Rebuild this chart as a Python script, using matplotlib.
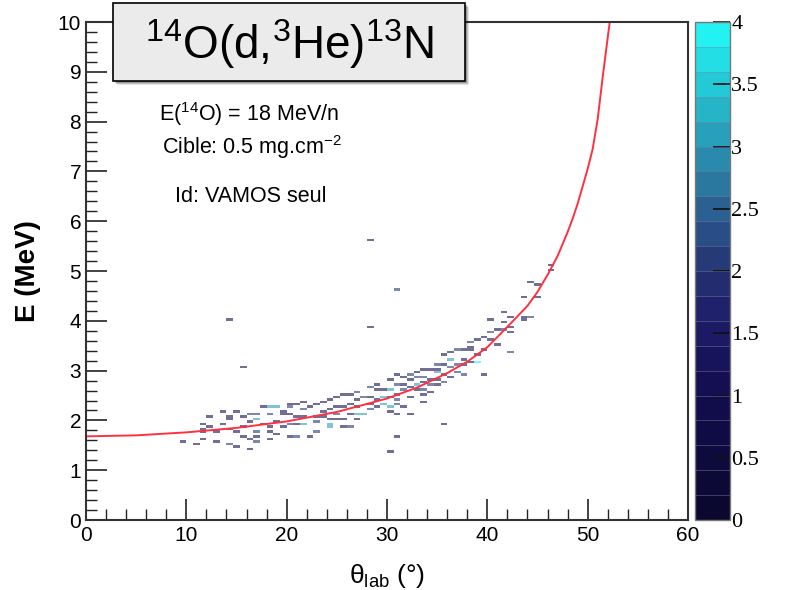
import matplotlib
matplotlib.use("Agg")
import matplotlib.pyplot as plt
import numpy as np
from matplotlib.colors import LinearSegmentedColormap, ListedColormap, Normalize
from matplotlib.cm import ScalarMappable
from matplotlib.patches import FancyBboxPatch
from matplotlib.ticker import MultipleLocator

plt.rcParams.update({
    "font.family": ["Liberation Sans", "DejaVu Sans"],
    "mathtext.fontset": "custom",
    "mathtext.rm": "Liberation Sans",
    "mathtext.it": "Liberation Sans:italic",
    "mathtext.bf": "Liberation Sans:bold",
})

# --- histogram cells: angle (deg), energy (MeV), counts ---------------
theta_cells = [
    9.7, 11.1, 11.7, 11.7, 11.7, 11.8, 12.4, 12.5, 13.1, 13.1,
    13.7, 13.8, 14.4, 14.4, 14.4, 14.4, 15.1, 15.1, 15.2, 15.8,
    15.8, 15.8, 16.4, 16.4, 16.5, 16.4, 17.1, 17.1, 17.1, 17.1,
    17.2, 17.7, 17.8, 18.4, 18.4, 18.4, 18.4, 18.4, 19.1, 19.2,
    19.2, 19.8, 19.8, 19.8, 20.4, 20.4, 20.5, 20.5, 20.5, 21.2,
    21.2, 21.2, 21.2, 21.8, 21.8, 21.8, 21.8, 22.5, 22.5, 23.1,
    23.2, 23.2, 23.2, 23.8, 23.8, 23.8, 24.4, 24.5, 24.5, 24.5,
    24.5, 25.2, 25.2, 25.2, 25.2, 25.8, 25.8, 25.8, 25.8, 26.5,
    26.5, 26.5, 26.5, 27.1, 27.1, 27.1, 27.1, 27.1, 27.8, 27.8,
    28.5, 28.5, 28.5, 28.5, 29.1, 29.1, 29.1, 29.1, 29.8, 29.8,
    29.8, 30.5, 30.5, 30.5, 30.5, 30.5, 31.1, 31.1, 31.1, 31.1,
    31.1, 31.1, 31.1, 31.8, 31.8, 31.8, 31.8, 32.5, 32.5, 32.5,
    32.5, 32.5, 33.1, 33.1, 33.1, 33.1, 33.8, 33.8, 33.8, 33.8,
    33.8, 33.9, 34.5, 34.5, 34.5, 34.5, 35.1, 35.1, 35.1, 35.1,
    35.1, 35.8, 35.8, 35.8, 35.8, 35.9, 36.5, 36.5, 36.5, 36.5,
    37.1, 37.1, 37.1, 37.8, 37.8, 37.8, 37.8, 38.5, 38.5, 38.5,
    38.5, 39.1, 39.1, 39.1, 39.8, 39.8, 39.9, 40.5, 40.5, 40.5,
    41.1, 41.2, 41.9, 41.9, 41.9, 42.0, 42.5, 42.6, 42.6, 43.9,
    43.9, 43.9, 44.6, 44.6, 45.3, 45.3, 46.6, 46.6,
    14.4, 15.8, 28.5, 31.1, 30.5, 28.5,
]
energy_cells = [
    1.57, 1.54, 1.91, 1.83, 1.75, 1.62, 2.07, 1.87, 1.77, 1.56,
    2.15, 1.91, 2.09, 2.01, 1.82, 1.50, 2.15, 1.49, 1.75, 2.07,
    1.89, 1.69, 2.11, 1.96, 1.62, 1.45, 2.11, 2.03, 1.77, 1.70,
    1.55, 2.26, 1.94, 2.29, 2.11, 1.89, 1.75, 1.61, 2.29, 1.97,
    1.72, 2.17, 2.12, 1.89, 2.33, 2.27, 2.11, 1.95, 1.67, 2.34,
    2.09, 1.93, 1.66, 2.37, 2.22, 2.07, 1.93, 2.27, 1.67, 2.31,
    2.09, 1.97, 1.75, 2.35, 2.18, 2.09, 2.44, 2.24, 2.04, 1.95,
    1.87, 2.47, 2.29, 2.13, 2.01, 2.52, 2.29, 2.01, 1.87, 2.51,
    2.31, 2.14, 1.89, 2.58, 2.41, 2.27, 2.14, 2.04, 2.47, 2.12,
    2.69, 2.47, 2.31, 2.21, 2.74, 2.61, 2.41, 2.27, 2.64, 2.47,
    2.31, 2.81, 2.64, 2.47, 2.29, 2.17, 2.94, 2.74, 2.54, 2.44,
    2.34, 2.11, 1.69, 2.88, 2.74, 2.64, 2.27, 2.91, 2.81, 2.68,
    2.47, 2.14, 2.96, 2.88, 2.71, 2.61, 3.04, 2.89, 2.76, 2.62,
    2.53, 2.39, 3.01, 2.84, 2.71, 2.58, 3.14, 3.04, 2.96, 2.81,
    2.71, 3.31, 3.11, 2.91, 2.78, 1.92, 3.40, 3.21, 3.09, 2.86,
    3.41, 3.14, 2.96, 3.43, 3.24, 3.11, 2.91, 3.58, 3.49, 3.41,
    3.18, 3.65, 3.34, 3.18, 3.67, 3.41, 2.93, 3.75, 3.61, 4.00,
    3.81, 3.53, 4.15, 3.96, 3.81, 3.38, 3.87, 3.75, 4.05, 4.48,
    4.08, 4.00, 4.05, 4.76, 4.73, 4.47, 5.14, 5.03,
    4.03, 3.09, 3.89, 4.63, 1.37, 5.62,
]
counts = [
    1, 1, 1, 1, 1, 1, 1, 1, 1, 1,
    1, 1, 1, 1, 1, 2, 1, 1, 1, 1,
    1, 1, 2, 1, 1, 1, 2, 3, 2, 1,
    2, 1, 1, 3, 2, 1, 1, 1, 3, 1,
    1, 1, 1, 1, 1, 2, 1, 2, 1, 1,
    1, 1, 2, 1, 2, 1, 3, 1, 1, 1,
    1, 2, 2, 1, 1, 1, 1, 1, 1, 3,
    3, 1, 1, 2, 1, 1, 1, 1, 1, 1,
    1, 1, 2, 2, 1, 1, 3, 1, 2, 3,
    2, 1, 1, 2, 1, 1, 1, 1, 1, 3,
    3, 1, 3, 1, 3, 1, 1, 2, 1, 2,
    2, 1, 1, 1, 1, 2, 1, 2, 1, 1,
    1, 1, 1, 2, 3, 1, 1, 2, 1, 2,
    1, 1, 1, 1, 2, 1, 2, 1, 3, 1,
    1, 1, 1, 1, 2, 1, 1, 3, 2, 1,
    2, 2, 2, 1, 1, 1, 2, 2, 1, 1,
    1, 1, 1, 4, 1, 1, 1, 2, 1, 1,
    1, 1, 1, 1, 2, 2, 1, 1, 1, 1,
    1, 1, 2, 1, 1, 1, 1, 1,
    1, 1, 1, 2, 1, 1,
]

# --- kinematic line --------------------------------------------------
curve_theta = [0, 5, 10, 15, 20, 25, 30, 33, 36, 38, 40, 42, 44, 45,
               46, 47, 48, 48.5, 49, 49.5, 50, 50.5, 51, 51.5, 52.2]
curve_e = [1.68, 1.70, 1.76, 1.85, 1.98, 2.17, 2.44, 2.66, 2.95, 3.18,
           3.47, 3.88, 4.30, 4.58, 4.92, 5.30, 5.78, 6.05, 6.35, 6.70,
           7.05, 7.45, 8.05, 8.90, 10.0]

cbar_ticks = [0, 0.5, 1, 1.5, 2, 2.5, 3, 3.5, 4]

# ROOT-like palette, 20 discrete levels
base = LinearSegmentedColormap.from_list("rootpal", [
    (0.0, "#0b0830"), (0.125, "#0d0a40"), (0.25, "#130e50"),
    (0.375, "#1d1a66"), (0.5, "#243070"), (0.625, "#2a5f90"),
    (0.75, "#2a8fb0"), (0.875, "#25c0d2"), (1.0, "#22f2f2"),
])
cmap = ListedColormap(base(np.linspace(0, 1, 20)))
norm = Normalize(vmin=0, vmax=4)

fig = plt.figure(figsize=(7.87, 5.90), dpi=100)
ax = fig.add_axes([0.1093, 0.1186, 0.7649, 0.8441])

xbins = np.linspace(0, 60, 91)
ybins = np.linspace(0, 10, 201)
ax.hist2d(theta_cells, energy_cells, bins=[xbins, ybins], weights=counts,
          cmap=cmap, norm=norm, cmin=0.5, alpha=0.6)

ax.plot(curve_theta, curve_e, color="#ff3040", lw=1.4)

ax.set_xlim(0, 60)
ax.set_ylim(0, 10)
ax.xaxis.set_major_locator(MultipleLocator(10))
ax.xaxis.set_minor_locator(MultipleLocator(2))
ax.yaxis.set_major_locator(MultipleLocator(1))
ax.yaxis.set_minor_locator(MultipleLocator(0.2))
ax.tick_params(which="both", direction="in", colors="#222222",
               labelcolor="black", labelsize=15)
ax.tick_params(which="major", length=15, width=1.2)
ax.tick_params(which="minor", length=8, width=1.0)
ax.tick_params(axis="x", pad=4)
for sp in ax.spines.values():
    sp.set_linewidth(1.5)
    sp.set_color("#333333")

ax.set_ylabel("E (MeV)", fontsize=20, fontweight="bold")
ax.yaxis.set_label_coords(-0.075, 0.50)
ax.set_xlabel(r"θ$_{\rm lab}$ (°)", fontsize=19)
ax.xaxis.set_label_coords(0.50, -0.085)

ax.text(0.27, 0.815, r"E($^{14}$O) = 18 MeV/n", transform=ax.transAxes,
        ha="center", va="center", fontsize=15.5)
ax.text(0.275, 0.749, r"Cible: 0.5 mg.cm$^{-2}$", transform=ax.transAxes,
        ha="center", va="center", fontsize=15.5)
ax.text(0.273, 0.650, "Id: VAMOS seul", transform=ax.transAxes,
        ha="center", va="center", fontsize=15.5)

# title box with a soft shadow
bx0, by0, bw, bh = 113 / 787, 1 - 81 / 590, 352 / 787, 78 / 590
for k, a in enumerate([0.10, 0.16, 0.22]):
    off = (3 - k) / 787
    fig.patches.append(FancyBboxPatch(
        (bx0 + off + 1 / 787, by0 - off * 787 / 590 - 1 / 590), bw, bh,
        boxstyle="square,pad=0", transform=fig.transFigure,
        facecolor="black", edgecolor="none", alpha=a, zorder=5))
fig.patches.append(FancyBboxPatch(
    (bx0, by0), bw, bh, boxstyle="square,pad=0", transform=fig.transFigure,
    facecolor="#ebebeb", edgecolor="black", linewidth=1.2, zorder=6))
fig.text(bx0 + bw / 2, by0 + bh / 2 - 0.003, r"$^{14}$O(d,$^{3}$He)$^{13}$N",
         ha="center", va="center", fontsize=33, zorder=7)

# colour scale
cax = fig.add_axes([695 / 787, 0.1186, 35 / 787, 0.8441])
cb = fig.colorbar(ScalarMappable(norm=norm, cmap=cmap), cax=cax,
                  drawedges=True, ticks=cbar_ticks)
cb.dividers.set_color("#7f8aa8")
cb.dividers.set_linewidth(0.6)
cb.dividers.set_alpha(0.5)
cb.outline.set_edgecolor("#777777")
cb.outline.set_linewidth(1.0)
cb.set_ticklabels(["0", "0.5", "1", "1.5", "2", "2.5", "3", "3.5", "4"])
cax.tick_params(direction="in", length=12, width=1.2, color="#111111",
                labelsize=16, pad=1)
for lab in cax.get_yticklabels():
    lab.set_family(["Liberation Serif", "DejaVu Serif"])

fig.savefig("out.png", dpi=100)
